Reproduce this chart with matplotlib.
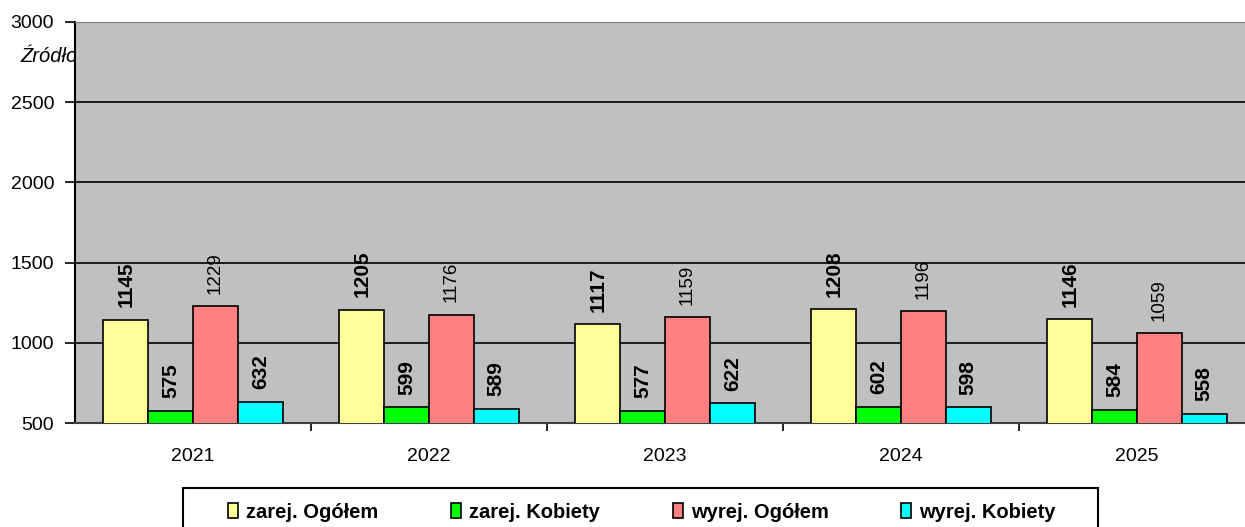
import matplotlib.pyplot as plt
from matplotlib.patches import Rectangle
import numpy as np

plt.rcParams['font.family'] = ['Liberation Sans', 'DejaVu Sans']

years = ["2021", "2022", "2023", "2024", "2025"]
zarej_ogolem = [1145, 1205, 1117, 1208, 1146]
zarej_kobiety = [575, 599, 577, 602, 584]
wyrej_ogolem = [1229, 1176, 1159, 1196, 1059]
wyrej_kobiety = [632, 589, 622, 598, 558]

series = [
    ("zarej. Ogółem", zarej_ogolem, "#FFFF99", "bold", 15),
    ("zarej. Kobiety", zarej_kobiety, "#00FF00", "bold", 15),
    ("wyrej. Ogółem", wyrej_ogolem, "#FF8080", "normal", 13.5),
    ("wyrej. Kobiety", wyrej_kobiety, "#00FFFF", "bold", 15),
]

W, H = 1245, 527
fig = plt.figure(figsize=(W / 100, H / 100), dpi=100)
ax = fig.add_axes([75 / W, 1 - 423 / H, 1180 / W, 401 / H])
ax.set_facecolor("#C0C0C0")

# source note, mostly hidden behind the plot area
fig.text(20 / W, 1 - 57 / H, "Źródło", fontsize=14.5, style="italic",
         va="center", ha="left", zorder=-1)

x = np.arange(len(years))
bw = 0.19
offsets = (np.arange(4) - 1.5) * bw
for (name, vals, col, fw, fs), off in zip(series, offsets):
    bars = ax.bar(x + off, vals, bw, color=col, edgecolor="black",
                  linewidth=1.2, label=name, zorder=3)
    for b, v in zip(bars, vals):
        ax.annotate(str(v), (b.get_x() + b.get_width() / 2, v),
                    xytext=(0, 9), textcoords="offset points",
                    rotation=90, ha="center", va="bottom",
                    fontsize=fs, fontweight=fw, zorder=4)

ax.set_ylim(500, 3000)
ax.set_xlim(-0.5, len(years) - 0.5)
ax.set_yticks([500, 1000, 1500, 2000, 2500, 3000])
ax.yaxis.grid(True, color="black", linewidth=1.2)
ax.set_axisbelow(True)
ax.tick_params(axis="y", labelsize=14, length=7, width=1.2, direction="out", pad=8)

ax.set_xticks(x)
ax.set_xticklabels(years)
ax.tick_params(axis="x", which="major", length=0, labelsize=14, pad=18)
ax.set_xticks(np.arange(len(years) - 1) + 0.5, minor=True)
ax.tick_params(axis="x", which="minor", length=6, width=1.2, direction="out")

ax.spines["right"].set_visible(False)
ax.spines["top"].set_color("#808080")
ax.spines["left"].set_linewidth(1.5)
ax.spines["bottom"].set_linewidth(1.5)
ax.spines["bottom"].set_color("#404040")

# legend frame runs past the bottom edge of the picture
fig.patches.append(Rectangle((183 / W, -0.05), 915 / W, 0.05 + 39 / H,
                             transform=fig.transFigure, facecolor="white",
                             edgecolor="black", linewidth=1.5, zorder=1))
leg = fig.legend(loc="center", bbox_to_anchor=(642 / W, 1 - 512 / H),
                 ncol=4, frameon=False, columnspacing=3.6,
                 handlelength=0.5, handleheight=0.7, handletextpad=0.4,
                 prop={"weight": "bold", "size": 14.5})
leg.set_zorder(2)

fig.savefig("out.png", dpi=100)
